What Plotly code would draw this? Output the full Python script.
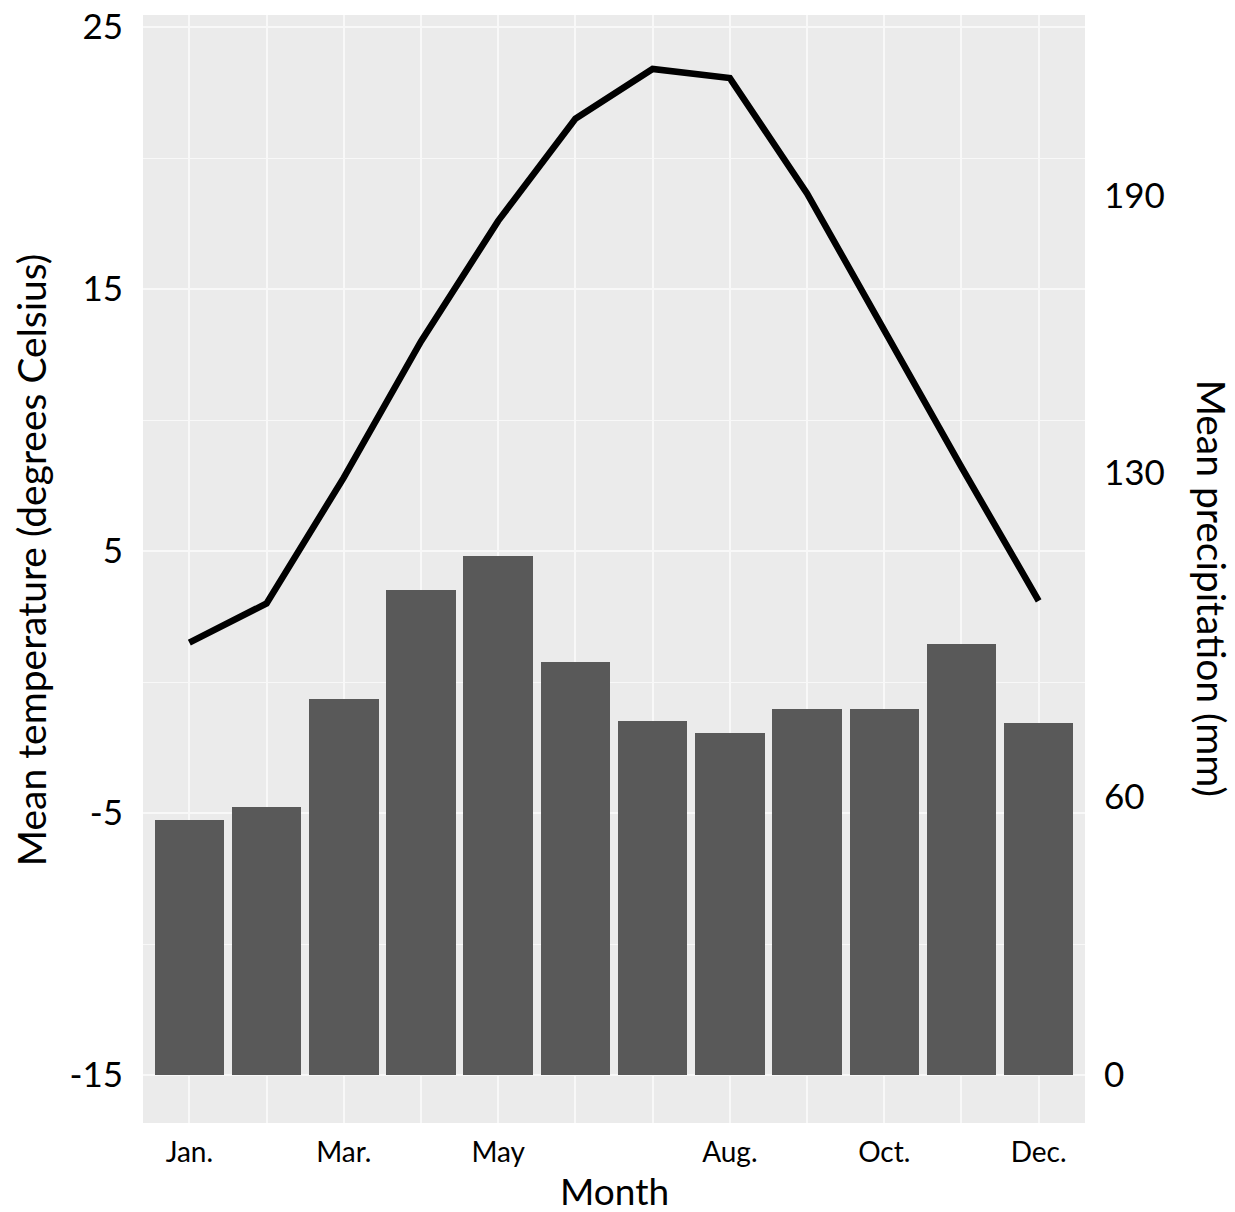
import plotly.graph_objects as go

# Monthly climate normals
months = ["Jan.", "Feb.", "Mar.", "Apr.", "May", "Jun.",
          "Jul.", "Aug.", "Sep.", "Oct.", "Nov.", "Dec."]
month_index = list(range(1, 13))
labelled_months = ["Jan.", "Mar.", "May", "Aug.", "Oct.", "Dec."]

temperature_c = [1.5, 3.0, 7.8, 13.0, 17.6, 21.5, 23.4, 23.05, 18.65, 13.4, 8.2, 3.1]
precipitation_mm = [55.1, 57.9, 81.2, 104.8, 112.2, 89.1, 76.5, 73.9, 79.0, 79.0, 93.1, 76.0]

temp_major_ticks = [-15, -5, 5, 15, 25]
temp_tick_text = ["-15", "-5", "5", "15", "25"]
temp_minor_ticks = [-10, 0, 10, 20]
precip_ticks = [0, 60, 130, 190]

FONT = "Lato"
tick_text = [m if m in labelled_months else "" for m in months]

fig = go.Figure()

# precipitation bars on the (right-hand) base axis
fig.add_trace(go.Bar(
    x=month_index, y=precipitation_mm, width=0.9,
    marker=dict(color="#595959", line=dict(width=0)),
    yaxis="y", showlegend=False,
))

# temperature line on the overlaying left axis
fig.add_trace(go.Scatter(
    x=month_index, y=temperature_c, mode="lines",
    line=dict(color="black", width=6.5),
    yaxis="y2", showlegend=False,
))

fig.update_layout(
    width=1235, height=1212,
    margin=dict(l=143, r=150, t=15, b=89),
    paper_bgcolor="white",
    plot_bgcolor="#EBEBEB",
    font=dict(family=FONT, color="black"),
    bargap=0,
    xaxis=dict(
        range=[0.4, 12.6], tickmode="array", tickvals=month_index, ticktext=tick_text,
        showgrid=True, gridcolor="#F8F8F8", gridwidth=1.5, zeroline=False,
        ticks="", ticklabelstandoff=10, automargin=False,
        tickfont=dict(size=28, family=FONT), showline=False,
    ),
    yaxis=dict(
        side="right", range=[-10.367, 228.94],
        tickmode="array", tickvals=precip_ticks,
        showgrid=False, zeroline=False, ticks="", automargin=False,
        tickfont=dict(size=35, family=FONT), ticklabelstandoff=18,
    ),
    yaxis2=dict(
        side="left", overlaying="y", range=[-16.832, 25.458],
        tickmode="array", tickvals=temp_major_ticks, ticktext=temp_tick_text,
        showgrid=True, gridcolor="#F8F8F8", gridwidth=1.8, zeroline=False,
        ticks="", automargin=False,
        tickfont=dict(size=35, family=FONT), ticklabelstandoff=19,
        minor=dict(tickvals=temp_minor_ticks, showgrid=True,
                   gridcolor="#F8F8F8", gridwidth=1.2, ticks=""),
    ),
    annotations=[
        dict(text="Month", xref="paper", yref="paper", x=0.5, y=-0.0605,
             xanchor="center", yanchor="middle", showarrow=False,
             font=dict(size=37, family=FONT)),
        dict(text="Mean temperature (degrees Celsius)", xref="paper", yref="paper",
             x=-0.1189, y=0.508, xanchor="center", yanchor="middle",
             textangle=-90, showarrow=False, font=dict(size=39, family=FONT)),
        dict(text="Mean precipitation (mm)", xref="paper", yref="paper",
             x=1.135, y=0.483, xanchor="center", yanchor="middle",
             textangle=90, showarrow=False, font=dict(size=39, family=FONT)),
    ],
)

fig.write_html("out.html")
